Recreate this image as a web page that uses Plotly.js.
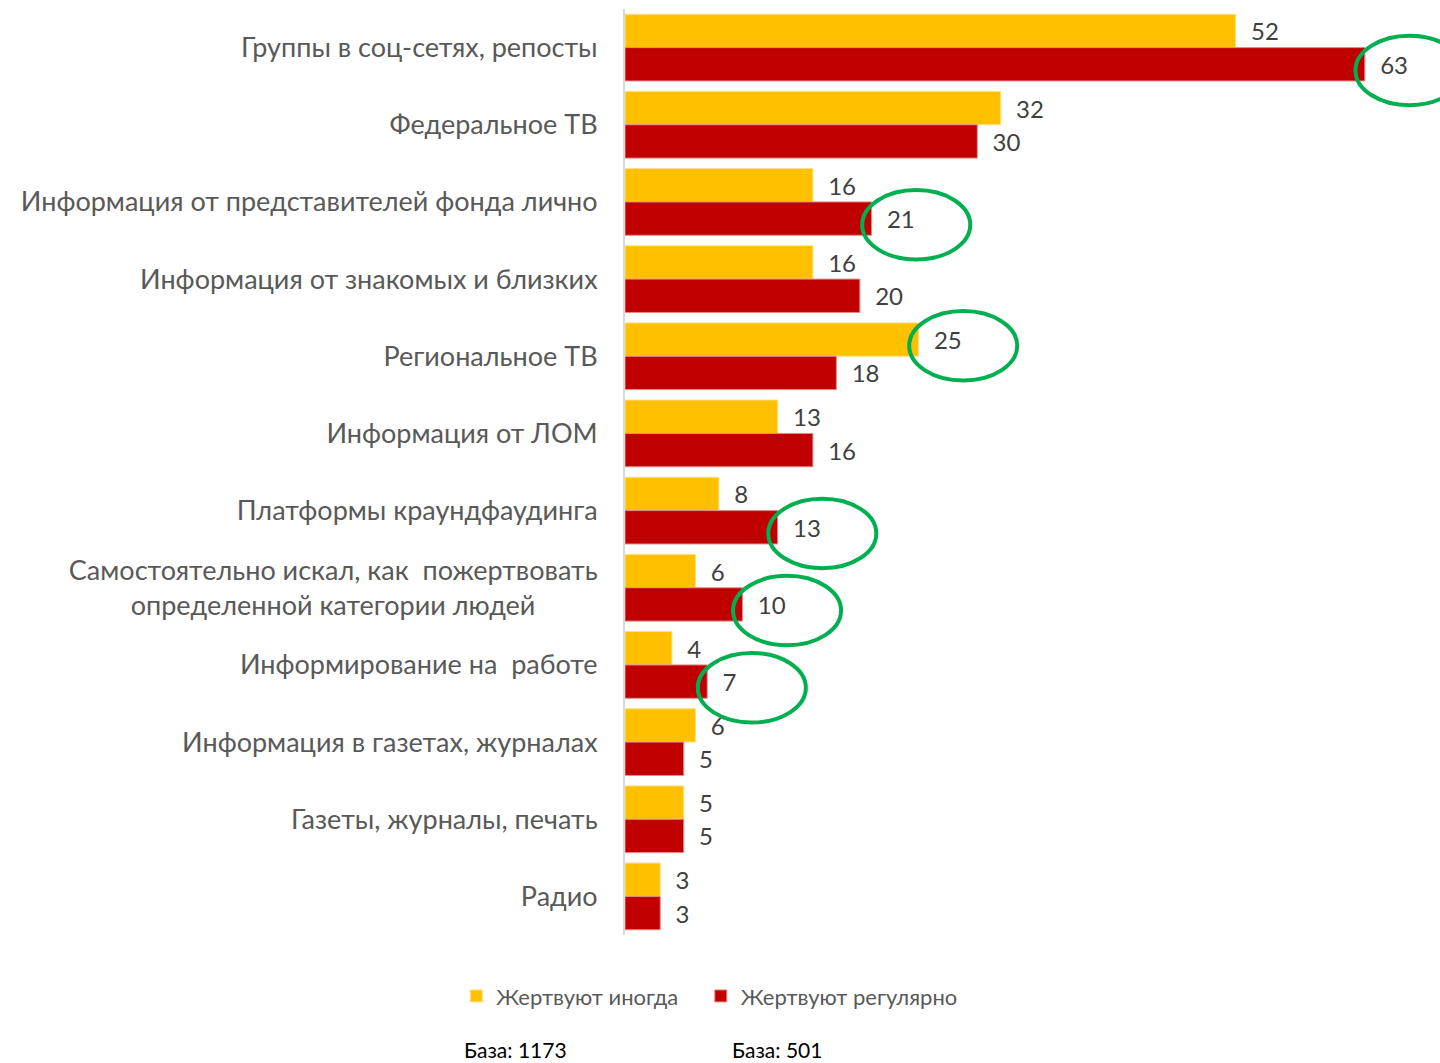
<!DOCTYPE html>
<html>
<head>
<meta charset="utf-8">
<script src="https://cdn.plot.ly/plotly-3.0.1.min.js"></script>
<style>
  html, body { margin: 0; padding: 0; background: #fff; }
  #chart { width: 1440px; height: 1063px; }
</style>
</head>
<body>
<div id="chart"></div>
<script>
// источники информации о сборах, %
var categories = [
    'Группы в соц-сетях, репосты',
    'Федеральное ТВ',
    'Информация от представителей фонда лично',
    'Информация от знакомых и близких',
    'Региональное ТВ',
    'Информация от ЛОМ',
    'Платформы краундфаудинга',
    'Самостоятельно искал, как  пожертвовать<br>определенной категории людей&nbsp;&nbsp;&nbsp;&nbsp;&nbsp;&nbsp;&nbsp;&nbsp;&nbsp;',
    'Информирование на  работе',
    'Информация в газетах, журналах',
    'Газеты, журналы, печать',
    'Радио'
];

var inogda = [52, 32, 16, 16, 25, 13, 8, 6, 4, 6, 5, 3];
var regulyarno = [63, 30, 21, 20, 18, 16, 13, 10, 7, 5, 5, 3];

// обведённые значения: [номер категории, ряд]
var highlighted = [[0, 'r'], [2, 'r'], [4, 'i'], [6, 'r'], [7, 'r'], [8, 'r']];

var labelFont = {family: 'Lato, "Noto Sans", sans-serif', size: 24, color: '#404040'};

var Inogda = {
    name: 'Жертвуют иногда',
    type: 'bar',
    orientation: 'h',
    y: categories,
    x: inogda,
    text: inogda.map(function (v) { return '  ' + v; }),
    textposition: 'outside',
    textfont: labelFont,
    cliponaxis: false,
    marker: {color: '#FFC000', line: {color: '#FFE27F', width: 1}},
    hoverinfo: 'none',
    legend: 'legend'
};

var Regulyarno = {
    name: 'Жертвуют регулярно',
    type: 'bar',
    orientation: 'h',
    y: categories,
    x: regulyarno,
    text: regulyarno.map(function (v) { return '  ' + v; }),
    textposition: 'outside',
    textfont: labelFont,
    cliponaxis: false,
    marker: {color: '#C00000', line: {color: '#E48A8A', width: 1}},
    hoverinfo: 'none',
    legend: 'legend2'
};

var data = [Inogda, Regulyarno];

// зелёные овалы вокруг подписей
var shapes = highlighted.map(function (h) {
    var v = h[1] === 'r' ? regulyarno[h[0]] : inogda[h[0]];
    var cy = h[0] + (h[1] === 'r' ? 0.216 : -0.216) + 0.08;
    var cx = v + 3.8;
    return {
        type: 'circle',
        xref: 'x', yref: 'y',
        x0: cx - 4.6, x1: cx + 4.6,
        y0: cy - 0.45, y1: cy + 0.45,
        line: {color: '#00B050', width: 4}
    };
});

var legendStyle = function (x) {
    return {
        orientation: 'h',
        x: x,
        xanchor: 'left',
        y: -0.066,
        yanchor: 'middle',
        font: {size: 22, color: '#595959'},
        itemwidth: 30
    };
};

var layout = {
    width: 1440,
    height: 1063,
    margin: {l: 625, r: 0, t: 9, b: 128},
    barmode: 'group',
    bargap: 0.135,
    bargroupgap: 0,
    paper_bgcolor: '#ffffff',
    plot_bgcolor: '#ffffff',
    font: {family: 'Lato, "Noto Sans", sans-serif', color: '#595959'},
    xaxis: {
        range: [0, 69.4],
        visible: false,
        fixedrange: true
    },
    yaxis: {
        autorange: 'reversed',
        showline: true,
        linecolor: '#D9D9D9',
        linewidth: 2,
        showgrid: false,
        ticks: '',
        ticklabelstandoff: 20,
        tickfont: {family: 'Lato, "Noto Sans", sans-serif', size: 27, color: '#595959'},
        fixedrange: true
    },
    showlegend: true,
    legend: legendStyle(-0.207),
    legend2: legendStyle(0.093),
    shapes: shapes,
    annotations: [
        {text: 'База: 1173', xref: 'paper', yref: 'paper', x: -0.2, y: -0.124,
         xanchor: 'left', yanchor: 'middle', showarrow: false,
         font: {size: 21, color: '#000000'}},
        {text: 'База: 501', xref: 'paper', yref: 'paper', x: 0.129, y: -0.124,
         xanchor: 'left', yanchor: 'middle', showarrow: false,
         font: {size: 21, color: '#000000'}}
    ]
};

var config = {staticPlot: true};

Plotly.newPlot('chart', data, layout, config);
</script>
</body>
</html>
